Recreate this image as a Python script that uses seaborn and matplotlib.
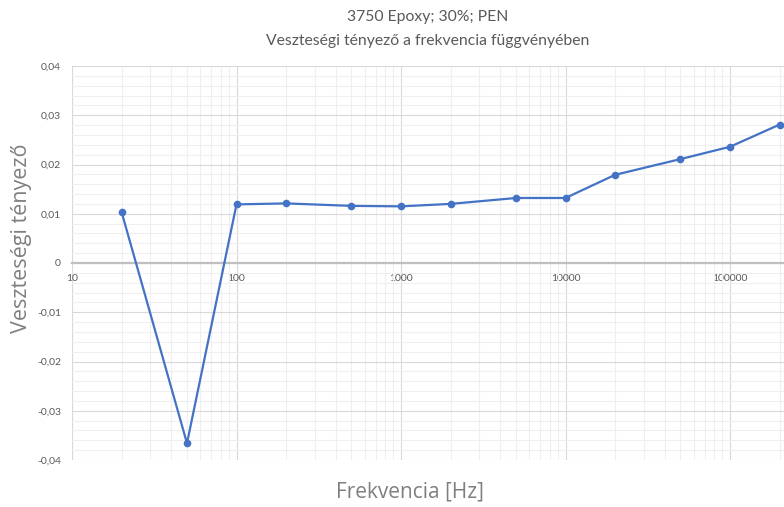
import numpy as np
import pandas as pd
import matplotlib
matplotlib.use("Agg")
import matplotlib.pyplot as plt
from matplotlib.ticker import FuncFormatter, LogLocator, MultipleLocator, FixedLocator
import seaborn as sns

# Measured loss factor vs. frequency
frequency_hz = [20, 50, 100, 200, 500, 1000, 2000, 5000, 10000, 20000, 50000, 100000, 200000]
loss_factor = [0.0104, -0.0366, 0.0119, 0.0121, 0.0116, 0.0115, 0.0120, 0.0132, 0.0132,
               0.0179, 0.0211, 0.0236, 0.0281]

title_lines = ["3750 Epoxy; 30%; PEN", "Veszteségi tényező a frekvencia függvényében"]
x_label = "Frekvencia [Hz]"
y_label = "Veszteségi tényező"
x_ticks = [10, 100, 1000, 10000, 100000]

sns.set_style("white")
plt.rcParams["font.family"] = ["Lato", "DejaVu Sans"]

df = pd.DataFrame({"f": frequency_hz, "v": loss_factor})

fig = plt.figure(figsize=(7.84, 5.07), dpi=100)
W, H = 784, 507
left, right, top, bottom = 72, 784, 66, 460
ax = fig.add_axes([left / W, 1 - bottom / H, (right - left) / W, (bottom - top) / H])

ax.set_xscale("log")
decade_px = 164.5
ax.set_xlim(10, 10 ** (1 + (right - left) / decade_px))
ax.set_ylim(-0.04, 0.04)

# grid
ax.xaxis.set_major_locator(FixedLocator(x_ticks))
ax.xaxis.set_minor_locator(LogLocator(base=10, subs=np.arange(2, 10)))
ax.yaxis.set_major_locator(MultipleLocator(0.01))
ax.yaxis.set_minor_locator(MultipleLocator(0.002))
ax.grid(which="major", color="#d9d9d9", linewidth=0.8)
ax.grid(which="minor", color="#efefef", linewidth=0.8)
ax.set_axisbelow(True)

for s in ["top", "right", "left"]:
    ax.spines[s].set_visible(False)
ax.spines["bottom"].set_position(("data", 0))
ax.spines["bottom"].set_color("#bfbfbf")
ax.spines["bottom"].set_linewidth(1.6)

sns.lineplot(data=df, x="f", y="v", ax=ax, color="#4472C4", linewidth=1.6,
             marker="o", markersize=5.5, markeredgewidth=0, clip_on=False, zorder=5)

ax.xaxis.set_major_formatter(FuncFormatter(lambda v, p: f"{int(round(v))}"))
ax.xaxis.set_minor_formatter(FuncFormatter(lambda v, p: ""))


def comma_fmt(v, p):
    if abs(v) < 1e-9:
        return "0"
    return f"{v:.2f}".replace(".", ",")


ax.yaxis.set_major_formatter(FuncFormatter(comma_fmt))
ax.tick_params(axis="both", which="both", length=0)
ax.tick_params(axis="x", labelsize=7.5, colors="#595959", pad=8)
ax.tick_params(axis="y", labelsize=7.5, colors="#595959", pad=8)
ax.set_xlabel("")
ax.set_ylabel("")

fig.text(428 / W, 1 - 17 / H, title_lines[0], ha="center", va="center", fontsize=11.3, color="#595959")
fig.text(428 / W, 1 - 41 / H, title_lines[1], ha="center", va="center", fontsize=11.3, color="#595959")
fig.text(410 / W, 1 - 492 / H, x_label, ha="center", va="center", fontsize=15,
         color="#7f7f7f", family=["Open Sans", "DejaVu Sans"])
fig.text(22 / W, 1 - 238 / H, y_label, ha="center", va="center", rotation=90, fontsize=15.5,
         color="#7f7f7f", family=["Open Sans", "DejaVu Sans"])

fig.savefig("out.png", dpi=100)
